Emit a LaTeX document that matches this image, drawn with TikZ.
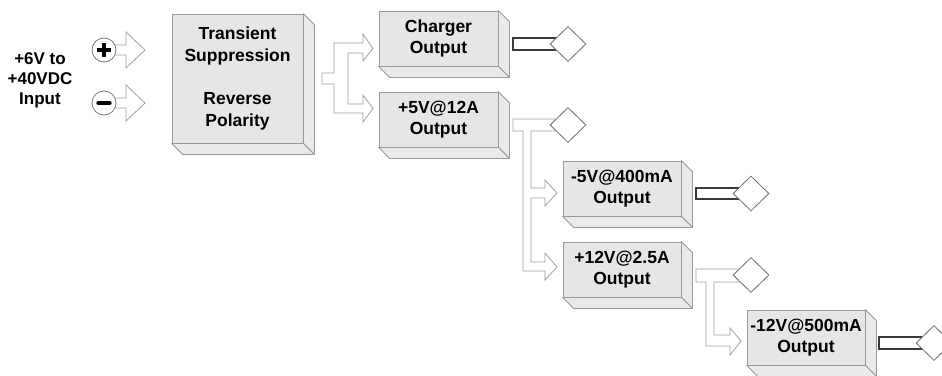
\documentclass[tikz,border=0pt]{standalone}
\usepackage{fontspec}
\setmainfont{Liberation Sans}
\usetikzlibrary{shapes.geometric}
\definecolor{boxline}{HTML}{9A9A9A}
\definecolor{boxfill}{HTML}{E6E6E6}
\definecolor{sidefill}{HTML}{EAEAEA}
\definecolor{arrowline}{HTML}{A0A0A0}
\definecolor{diamline}{HTML}{6E6E6E}
\definecolor{darkline}{HTML}{3A3A3A}
\definecolor{circline}{HTML}{7A7A7A}
\newcommand\boxsides[1]{%
  \path[boxside] (#1.north east) -- ++(11,11) -- ([shift={(11,11)}]#1.south east) -- (#1.south east) -- cycle;
  \path[boxside] (#1.south west) -- (#1.south east) -- ([shift={(11,11)}]#1.south east) -- ([shift={(11,11)}]#1.south west) -- cycle;}
\begin{document}
\begin{tikzpicture}[x=1pt,y=-1pt,
  lbl/.style={font=\bfseries\fontsize{17.5}{21.5}\selectfont, align=center, inner sep=0pt},
  blk/.style={draw=boxline, fill=boxfill, line width=0.8pt, inner sep=0pt, lbl},
  boxside/.style={draw=boxline, fill=sidefill, line width=0.8pt, line join=round},
  hollow/.style={draw=arrowline, fill=white, line width=0.8pt, line join=miter},
  dia/.style={diamond, draw=diamline, fill=white, line width=0.8pt, minimum width=36pt, minimum height=35pt, inner sep=0pt},
  plugbar/.style={draw=darkline, fill=white, line width=1.2pt},
  sign/.style={circle, draw=circline, fill=white, line width=0.8pt, minimum size=24pt, inner sep=0pt}
]
\useasboundingbox (0,0) rectangle (942,375);

% input label
\node[lbl, font=\bfseries\fontsize{17}{20}\selectfont] (input) at (40,80) {+6V to\\+40VDC\\Input};

% input arrows
\draw[hollow] (104,45) -- (126,45) -- (126,32) -- (145,50) -- (126,68) -- (126,55) -- (104,55) -- cycle;
\draw[hollow] (104,98) -- (126,98) -- (126,85) -- (145,103) -- (126,121) -- (126,108) -- (104,108) -- cycle;
\node[sign] (plus) at (104,50) {};
\node[sign] (minus) at (104,103) {};
\draw[line width=3.6pt] ([xshift=-7pt]plus.center) -- ([xshift=7pt]plus.center);
\draw[line width=3.6pt] ([yshift=-7pt]plus.center) -- ([yshift=7pt]plus.center);
\draw[line width=4.4pt, line cap=round] ([xshift=-5.5pt]minus.center) -- ([xshift=5.5pt]minus.center);

% main box
\node[blk, minimum width=131pt, minimum height=129pt] (main) at (237.5,78.5)
  {Transient\\Suppression\\[22pt]Reverse\\Polarity};
\boxsides{main}

% fork to charger and +5V
\draw[hollow] (322,73) -- (334,73) -- (334,43) -- (363,43) -- (363,34) -- (373,48.5) -- (363,61) -- (363,53)
  -- (348,53) -- (348,104) -- (363,104) -- (363,95) -- (373,108.5) -- (363,122) -- (363,113)
  -- (334,113) -- (334,84) -- (322,84) -- cycle;

% output boxes
\node[blk, minimum width=119pt, minimum height=55pt] (chg) at (438.5,38.5) {Charger\\Output};
\boxsides{chg}
\node[blk, minimum width=119pt, minimum height=55pt] (p5) at (438.5,119.5) {+5V@12A\\Output};
\boxsides{p5}
\node[blk, minimum width=118pt, minimum height=55pt] (m5) at (622,188.5) {-5V@400mA\\Output};
\boxsides{m5}
\node[blk, minimum width=118pt, minimum height=55pt] (p12) at (622,269.5) {+12V@2.5A\\Output};
\boxsides{p12}
\node[blk, minimum width=118pt, minimum height=55pt] (m12) at (806,337.5) {-12V@500mA\\Output};
\boxsides{m12}

% charger output connector
\draw[plugbar] (513,38) rectangle (560,50);
\node[dia] (dchg) at (568,44) {};

% +5V branch
\draw[hollow] (513,119) -- (565,119) -- (565,131) -- (531,131) -- (531,188) -- (545,188) -- (545,180)
  -- (557,193) -- (545,206) -- (545,198) -- (531,198) -- (531,262) -- (545,262) -- (545,253)
  -- (557,267) -- (545,280) -- (545,271) -- (523,271) -- (523,131) -- (513,131) -- cycle;
\node[dia] (dp5) at (568,125) {};

% -5V output connector
\draw[plugbar] (696,188) rectangle (745,199);
\node[dia] (dm5) at (751,193.5) {};

% +12V branch
\draw[hollow] (696,269) -- (745,269) -- (745,282) -- (714,282) -- (714,335) -- (730,335) -- (730,328)
  -- (741,341) -- (730,355) -- (730,346) -- (706,346) -- (706,282) -- (696,282) -- cycle;
\node[dia] (dp12) at (751,275) {};

% -12V output connector
\draw[plugbar] (879,337) rectangle (925,349);
\node[dia] (dm12) at (934,343) {};
\end{tikzpicture}
\end{document}
